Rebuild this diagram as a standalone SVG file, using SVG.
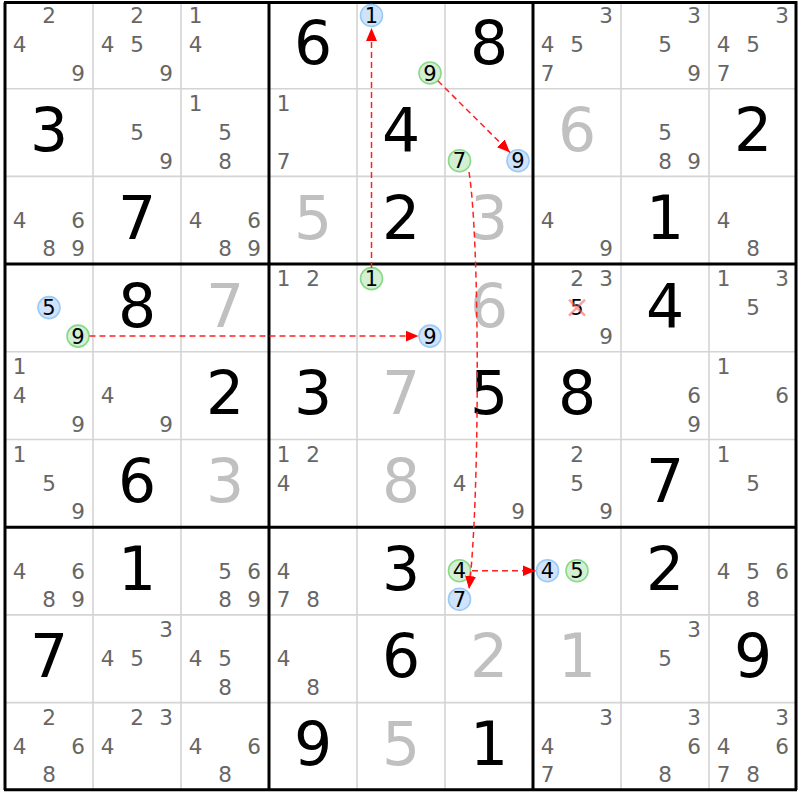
<svg xmlns="http://www.w3.org/2000/svg" width="800" height="800" viewBox="0 0 800 800">
<style>
text{font-family:"DejaVu Sans","Verdana",sans-serif;text-anchor:middle}
.s{font-size:21.5px;fill:#666;transform:translateY(0.6px)}
.b{font-size:60px;fill:#000}
.g{font-size:60px;fill:#c0c0c0}
.c{font-size:21px;fill:#000;transform:translateY(0.6px)}
.thin{stroke:#d4d4d4;stroke-width:1.6}
.thick{stroke:#000;stroke-width:3}
.cb{fill:#cfe3fa;stroke:#9ccaf5;stroke-width:1.6}
.cg{fill:#d3f0d3;stroke:#8ad98a;stroke-width:1.6}
.ar{fill:none;stroke:#ff2020;stroke-width:1.5;stroke-dasharray:6 4}
.x{stroke:#ff6060;stroke-opacity:0.6;stroke-width:2.5}
</style>
<defs>
<marker id="ah" markerUnits="userSpaceOnUse" markerWidth="13" markerHeight="11" refX="13" refY="5.5" orient="auto">
<path d="M0,0 L13,5.5 L0,11 z" fill="#ff0000"/>
</marker>
</defs>
<rect x="0" y="0" width="800" height="800" fill="#fff"/>
<g id="grid">
<path class="thin" d="M93,1V790M181,1V790M357,1V790M445,1V790M621,1V790M709,1V790M5,88.7H797M5,176.4H797M5,351.8H797M5,439.5H797M5,614.9H797M5,702.6H797"/>
<path class="thick" d="M5,2.5V790M269,1V790M533,1V790M796,1V790M4,2.5H797M4,264.1H797M4,527.2H797M4,789.7H797"/>
</g>
<g id="r0c0"><text class="s" x="49" y="22.8">2</text><text class="s" x="19.5" y="51.8">4</text><text class="s" x="78" y="80.3">9</text></g>
<g id="r0c1"><text class="s" x="137" y="22.8">2</text><text class="s" x="107.5" y="51.8">4</text><text class="s" x="137" y="51.8">5</text><text class="s" x="166" y="80.3">9</text></g>
<g id="r0c2"><text class="s" x="195.5" y="22.8">1</text><text class="s" x="195.5" y="51.8">4</text></g>
<g id="r0c3"><text class="b" x="313" y="63.5">6</text></g>
<g id="r0c4"><circle class="cb" cx="371.5" cy="15.5" r="11"/><text class="c" x="371.5" y="22.5">1</text><circle class="cg" cx="430" cy="73" r="11"/><text class="c" x="430" y="80">9</text></g>
<g id="r0c5"><text class="b" x="489" y="63.5">8</text></g>
<g id="r0c6"><text class="s" x="606" y="22.8">3</text><text class="s" x="547.5" y="51.8">4</text><text class="s" x="577" y="51.8">5</text><text class="s" x="547.5" y="80.3">7</text></g>
<g id="r0c7"><text class="s" x="694" y="22.8">3</text><text class="s" x="665" y="51.8">5</text><text class="s" x="694" y="80.3">9</text></g>
<g id="r0c8"><text class="s" x="782" y="22.8">3</text><text class="s" x="723.5" y="51.8">4</text><text class="s" x="753" y="51.8">5</text><text class="s" x="723.5" y="80.3">7</text></g>

<g id="r1c0"><text class="b" x="49" y="151.2">3</text></g>
<g id="r1c1"><text class="s" x="137" y="139.5">5</text><text class="s" x="166" y="168">9</text></g>
<g id="r1c2"><text class="s" x="195.5" y="110.5">1</text><text class="s" x="225" y="139.5">5</text><text class="s" x="225" y="168">8</text></g>
<g id="r1c3"><text class="s" x="283.5" y="110.5">1</text><text class="s" x="283.5" y="168">7</text></g>
<g id="r1c4"><text class="b" x="401" y="151.2">4</text></g>
<g id="r1c5"><circle class="cg" cx="459.5" cy="160.7" r="11"/><text class="c" x="459.5" y="167.7">7</text><circle class="cb" cx="518" cy="160.7" r="11"/><text class="c" x="518" y="167.7">9</text></g>
<g id="r1c6"><text class="g" x="577" y="151.2">6</text></g>
<g id="r1c7"><text class="s" x="665" y="139.5">5</text><text class="s" x="665" y="168">8</text><text class="s" x="694" y="168">9</text></g>
<g id="r1c8"><text class="b" x="753" y="151.2">2</text></g>

<g id="r2c0"><text class="s" x="19.5" y="227.2">4</text><text class="s" x="78" y="227.2">6</text><text class="s" x="49" y="255.7">8</text><text class="s" x="78" y="255.7">9</text></g>
<g id="r2c1"><text class="b" x="137" y="238.9">7</text></g>
<g id="r2c2"><text class="s" x="195.5" y="227.2">4</text><text class="s" x="254" y="227.2">6</text><text class="s" x="225" y="255.7">8</text><text class="s" x="254" y="255.7">9</text></g>
<g id="r2c3"><text class="g" x="313" y="238.9">5</text></g>
<g id="r2c4"><text class="b" x="401" y="238.9">2</text></g>
<g id="r2c5"><text class="g" x="489" y="238.9">3</text></g>
<g id="r2c6"><text class="s" x="547.5" y="227.2">4</text><text class="s" x="606" y="255.7">9</text></g>
<g id="r2c7"><text class="b" x="665" y="238.9">1</text></g>
<g id="r2c8"><text class="s" x="723.5" y="227.2">4</text><text class="s" x="753" y="255.7">8</text></g>

<g id="r3c0"><circle class="cb" cx="49" cy="307.6" r="11"/><text class="c" x="49" y="314.6">5</text><circle class="cg" cx="78" cy="336.1" r="11"/><text class="c" x="78" y="343.1">9</text></g>
<g id="r3c1"><text class="b" x="137" y="326.6">8</text></g>
<g id="r3c2"><text class="g" x="225" y="326.6">7</text></g>
<g id="r3c3"><text class="s" x="283.5" y="285.9">1</text><text class="s" x="313" y="285.9">2</text></g>
<g id="r3c4"><circle class="cg" cx="371.5" cy="278.6" r="11"/><text class="c" x="371.5" y="285.6">1</text><circle class="cb" cx="430" cy="336.1" r="11"/><text class="c" x="430" y="343.1">9</text></g>
<g id="r3c5"><text class="g" x="489" y="326.6">6</text></g>
<g id="r3c6"><text class="s" x="577" y="285.9">2</text><text class="s" x="606" y="285.9">3</text><text class="c" x="577" y="314.9">5</text><path class="x" d="M569,299.6L585,315.6M585,299.6L569,315.6"/><text class="s" x="606" y="343.4">9</text></g>
<g id="r3c7"><text class="b" x="665" y="326.6">4</text></g>
<g id="r3c8"><text class="s" x="723.5" y="285.9">1</text><text class="s" x="782" y="285.9">3</text><text class="s" x="753" y="314.9">5</text></g>

<g id="r4c0"><text class="s" x="19.5" y="373.6">1</text><text class="s" x="19.5" y="402.6">4</text><text class="s" x="78" y="431.1">9</text></g>
<g id="r4c1"><text class="s" x="107.5" y="402.6">4</text><text class="s" x="166" y="431.1">9</text></g>
<g id="r4c2"><text class="b" x="225" y="414.3">2</text></g>
<g id="r4c3"><text class="b" x="313" y="414.3">3</text></g>
<g id="r4c4"><text class="g" x="401" y="414.3">7</text></g>
<g id="r4c5"><text class="b" x="489" y="414.3">5</text></g>
<g id="r4c6"><text class="b" x="577" y="414.3">8</text></g>
<g id="r4c7"><text class="s" x="694" y="402.6">6</text><text class="s" x="694" y="431.1">9</text></g>
<g id="r4c8"><text class="s" x="723.5" y="373.6">1</text><text class="s" x="782" y="402.6">6</text></g>

<g id="r5c0"><text class="s" x="19.5" y="461.3">1</text><text class="s" x="49" y="490.3">5</text><text class="s" x="78" y="518.8">9</text></g>
<g id="r5c1"><text class="b" x="137" y="502">6</text></g>
<g id="r5c2"><text class="g" x="225" y="502">3</text></g>
<g id="r5c3"><text class="s" x="283.5" y="461.3">1</text><text class="s" x="313" y="461.3">2</text><text class="s" x="283.5" y="490.3">4</text></g>
<g id="r5c4"><text class="g" x="401" y="502">8</text></g>
<g id="r5c5"><text class="s" x="459.5" y="490.3">4</text><text class="s" x="518" y="518.8">9</text></g>
<g id="r5c6"><text class="s" x="577" y="461.3">2</text><text class="s" x="577" y="490.3">5</text><text class="s" x="606" y="518.8">9</text></g>
<g id="r5c7"><text class="b" x="665" y="502">7</text></g>
<g id="r5c8"><text class="s" x="723.5" y="461.3">1</text><text class="s" x="753" y="490.3">5</text></g>

<g id="r6c0"><text class="s" x="19.5" y="578">4</text><text class="s" x="78" y="578">6</text><text class="s" x="49" y="606.5">8</text><text class="s" x="78" y="606.5">9</text></g>
<g id="r6c1"><text class="b" x="137" y="589.7">1</text></g>
<g id="r6c2"><text class="s" x="225" y="578">5</text><text class="s" x="254" y="578">6</text><text class="s" x="225" y="606.5">8</text><text class="s" x="254" y="606.5">9</text></g>
<g id="r6c3"><text class="s" x="283.5" y="578">4</text><text class="s" x="283.5" y="606.5">7</text><text class="s" x="313" y="606.5">8</text></g>
<g id="r6c4"><text class="b" x="401" y="589.7">3</text></g>
<g id="r6c5"><circle class="cg" cx="459.5" cy="570.7" r="11"/><text class="c" x="459.5" y="577.7">4</text><circle class="cb" cx="459.5" cy="599.2" r="11"/><text class="c" x="459.5" y="606.2">7</text></g>
<g id="r6c6"><circle class="cb" cx="547.5" cy="570.7" r="11"/><text class="c" x="547.5" y="577.7">4</text><circle class="cg" cx="577" cy="570.7" r="11"/><text class="c" x="577" y="577.7">5</text></g>
<g id="r6c7"><text class="b" x="665" y="589.7">2</text></g>
<g id="r6c8"><text class="s" x="723.5" y="578">4</text><text class="s" x="753" y="578">5</text><text class="s" x="782" y="578">6</text><text class="s" x="753" y="606.5">8</text></g>

<g id="r7c0"><text class="b" x="49" y="677.4">7</text></g>
<g id="r7c1"><text class="s" x="166" y="636.7">3</text><text class="s" x="107.5" y="665.7">4</text><text class="s" x="137" y="665.7">5</text></g>
<g id="r7c2"><text class="s" x="195.5" y="665.7">4</text><text class="s" x="225" y="665.7">5</text><text class="s" x="225" y="694.2">8</text></g>
<g id="r7c3"><text class="s" x="283.5" y="665.7">4</text><text class="s" x="313" y="694.2">8</text></g>
<g id="r7c4"><text class="b" x="401" y="677.4">6</text></g>
<g id="r7c5"><text class="g" x="489" y="677.4">2</text></g>
<g id="r7c6"><text class="g" x="577" y="677.4">1</text></g>
<g id="r7c7"><text class="s" x="694" y="636.7">3</text><text class="s" x="665" y="665.7">5</text></g>
<g id="r7c8"><text class="b" x="753" y="677.4">9</text></g>

<g id="r8c0"><text class="s" x="49" y="724.4">2</text><text class="s" x="19.5" y="753.4">4</text><text class="s" x="78" y="753.4">6</text><text class="s" x="49" y="781.9">8</text></g>
<g id="r8c1"><text class="s" x="137" y="724.4">2</text><text class="s" x="166" y="724.4">3</text><text class="s" x="107.5" y="753.4">4</text></g>
<g id="r8c2"><text class="s" x="195.5" y="753.4">4</text><text class="s" x="254" y="753.4">6</text><text class="s" x="225" y="781.9">8</text></g>
<g id="r8c3"><text class="b" x="313" y="765.1">9</text></g>
<g id="r8c4"><text class="g" x="401" y="765.1">5</text></g>
<g id="r8c5"><text class="b" x="489" y="765.1">1</text></g>
<g id="r8c6"><text class="s" x="606" y="724.4">3</text><text class="s" x="547.5" y="753.4">4</text><text class="s" x="547.5" y="781.9">7</text></g>
<g id="r8c7"><text class="s" x="694" y="724.4">3</text><text class="s" x="694" y="753.4">6</text><text class="s" x="665" y="781.9">8</text></g>
<g id="r8c8"><text class="s" x="782" y="724.4">3</text><text class="s" x="723.5" y="753.4">4</text><text class="s" x="782" y="753.4">6</text><text class="s" x="723.5" y="781.9">7</text><text class="s" x="753" y="781.9">8</text></g>

<g id="connectors">
<path class="ar" d="M371.5,268 L371.5,28" marker-end="url(#ah)"/>
<path class="ar" d="M437.8,80.8 L510,152.5" marker-end="url(#ah)"/>
<path class="ar" d="M89.5,336.1 L418.5,336.1" marker-end="url(#ah)"/>
<path class="ar" d="M469,172 C480,240 480,500 469,589" marker-end="url(#ah)"/>
<path class="ar" d="M472,570.7 L535.5,570.7" marker-end="url(#ah)"/>
</g>
</svg>
